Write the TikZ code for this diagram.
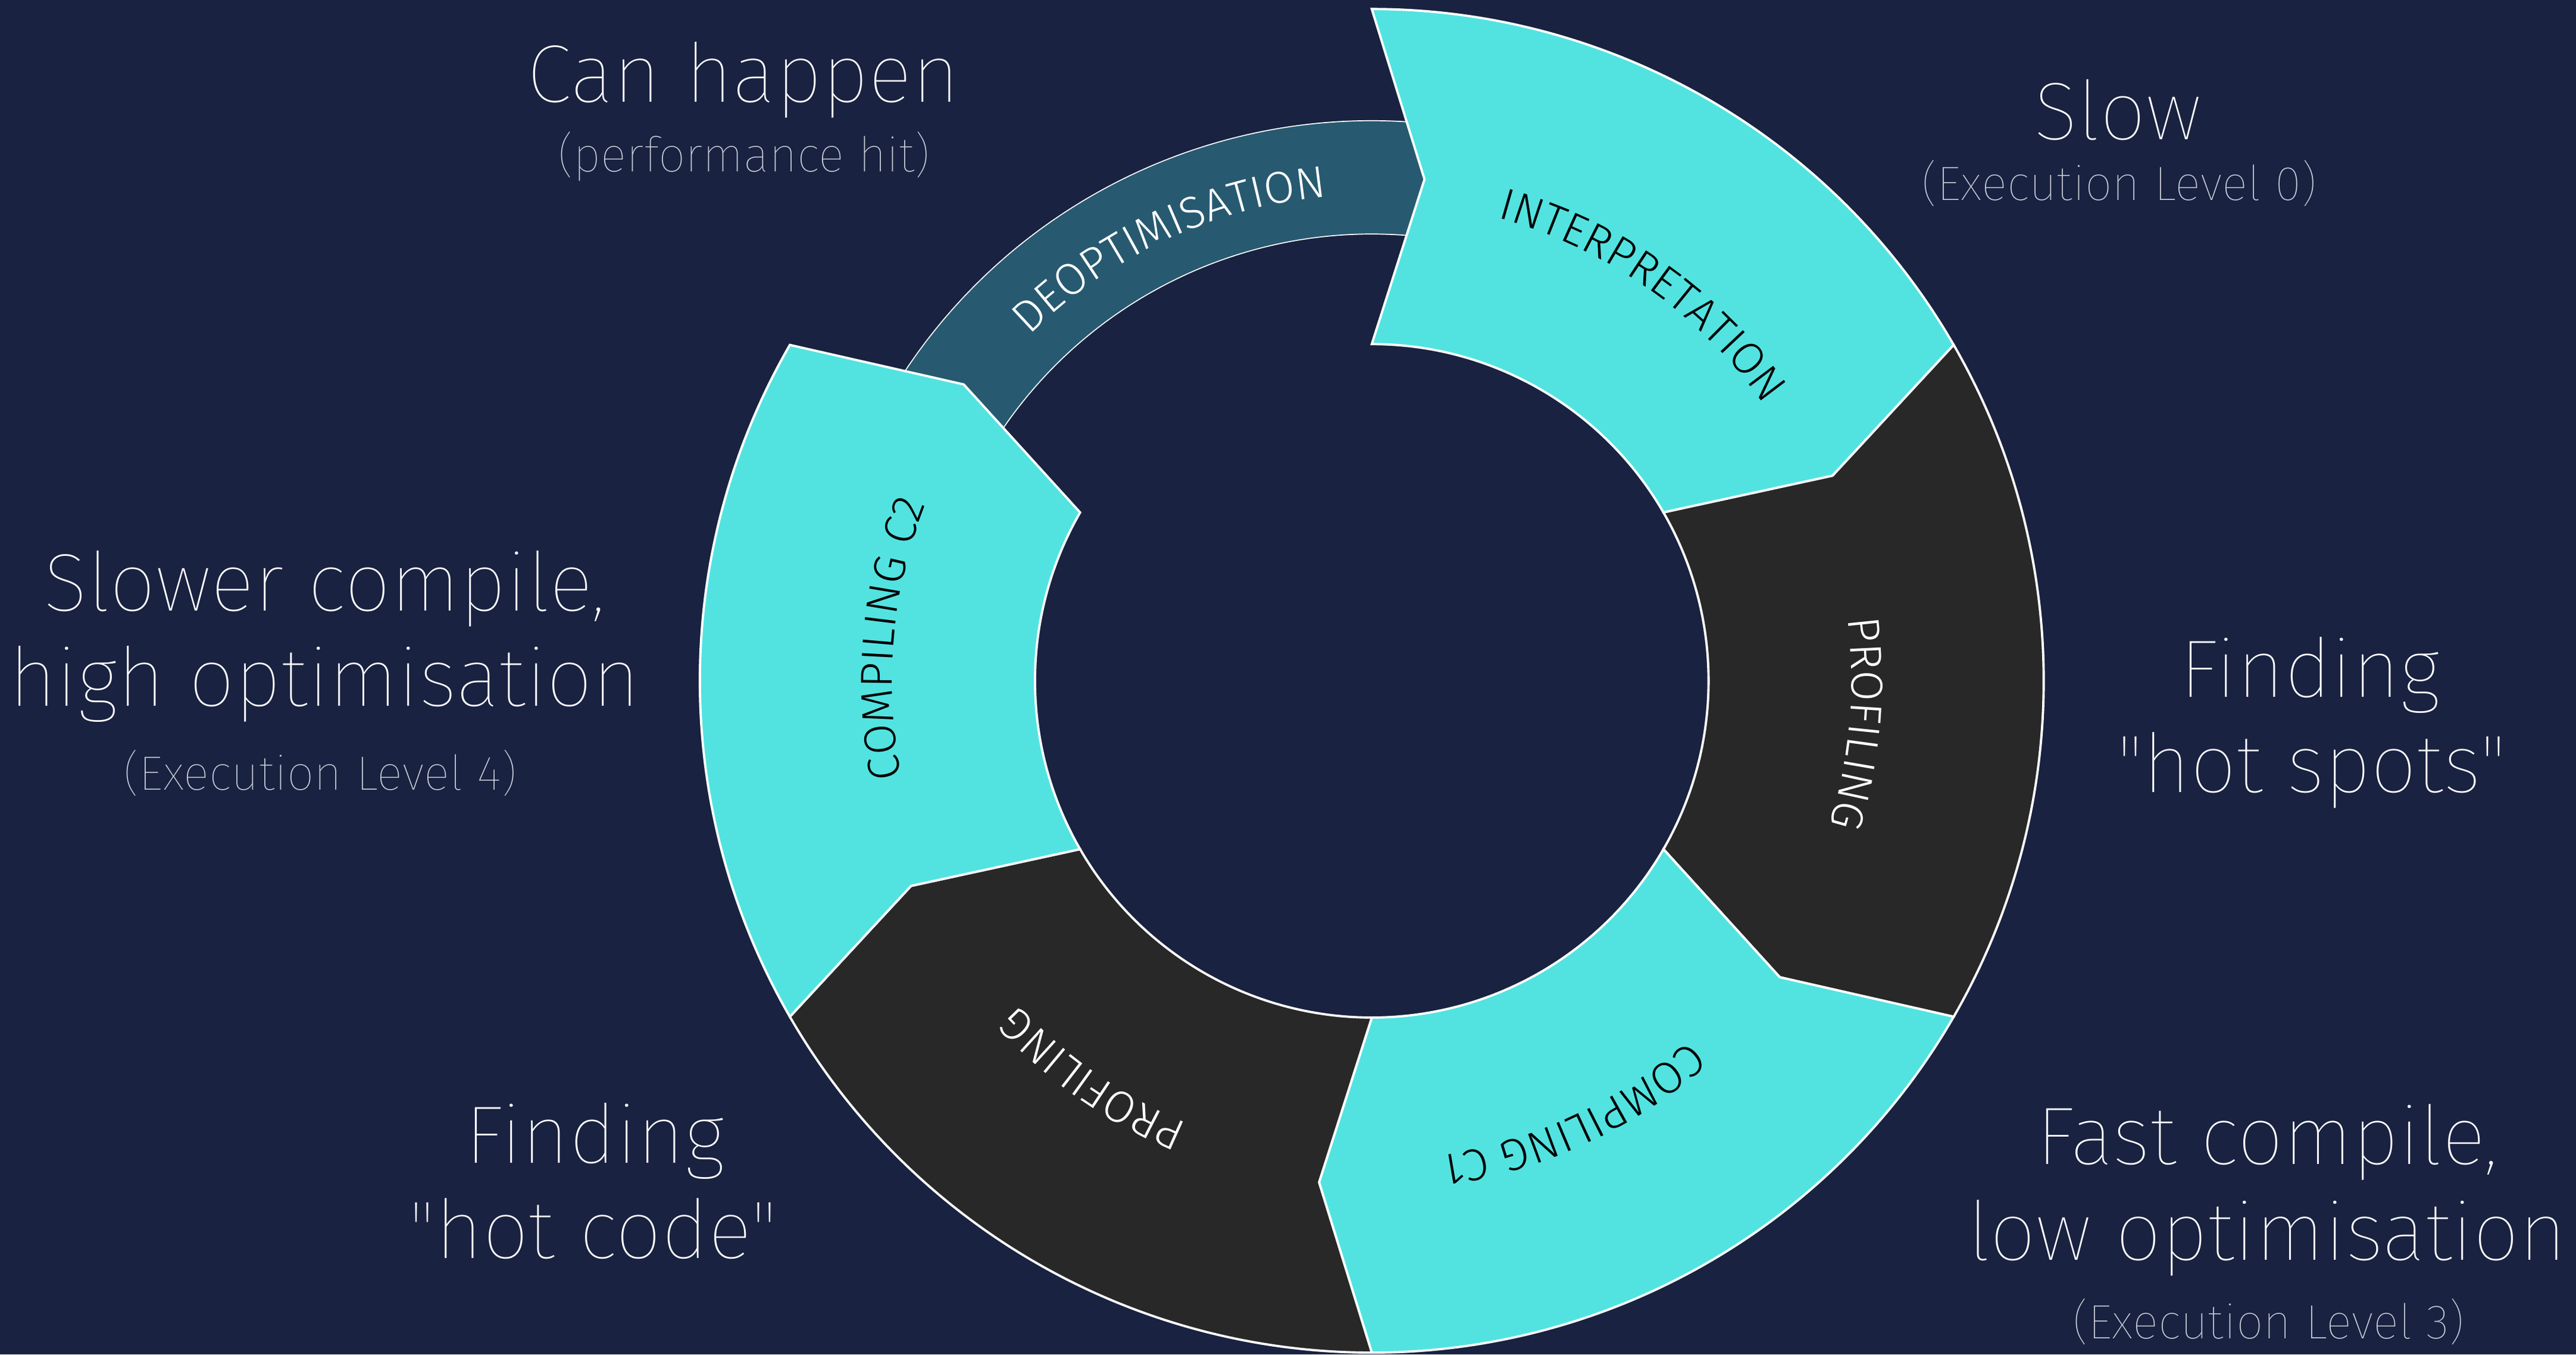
\documentclass[tikz,border=0pt]{standalone}
\usepackage{fontspec}
\setmainfont{Fira Sans}
\newfontfamily\thinfamily{Fira Sans Thin}
\newfontfamily\labelfamily{Fira Sans Light}
\usetikzlibrary{decorations.text}

\definecolor{bgnavy}{HTML}{192240}
\definecolor{segcyan}{HTML}{52E3E1}
\definecolor{seggray}{HTML}{282828}
\definecolor{deoptblue}{HTML}{275A70}
\definecolor{notegray}{HTML}{C9CDD8}

\newcommand\labelfont{\labelfamily\fontsize{15.5}{18}\selectfont}
\newcommand\bigfont{\thinfamily\fontsize{28.3}{33}\selectfont}
\newcommand\smallfont{\thinfamily\fontsize{16.7}{19}\selectfont}

\begin{document}
\begin{tikzpicture}[x=0.2mm,y=0.2mm,
  seg/.style={draw=white, line width=0.8pt, line join=miter},
  band/.style={draw=white, line width=0.35pt, fill=deoptblue},
  bigtxt/.style={anchor=base, text=white, font=\bigfont, inner sep=0pt},
  smalltxt/.style={anchor=base, text=notegray, font=\smallfont, inner sep=0pt},
  arclabel/.style 2 args={decorate, decoration={text along path,
      text align=center, text color=#1, text={|\labelfont|#2}}}]

  % Background
  \path[fill=bgnavy, use as bounding box] (-835,-410.1) rectangle (733,414.5);
  \coordinate (O) at (0,0);

  % Deoptimisation band (under the ring)
  \draw[band] (154:341) arc[start angle=154, end angle=80, radius=341]
    -- (80:272) arc[start angle=80, end angle=154, radius=272] -- cycle;

  % Ring segments
  \draw[seg, fill=segcyan] (90:409) arc[start angle=90, end angle=30, radius=409]
    -- (24:307) -- (30:205) arc[start angle=30, end angle=90, radius=205] -- (84:307) -- cycle;
  \draw[seg, fill=seggray] (30:409) arc[start angle=30, end angle=-30, radius=409]
    -- (-36:307) -- (-30:205) arc[start angle=-30, end angle=30, radius=205] -- (24:307) -- cycle;
  \draw[seg, fill=segcyan] (-30:409) arc[start angle=-30, end angle=-90, radius=409]
    -- (-96:307) -- (-90:205) arc[start angle=-90, end angle=-30, radius=205] -- (-36:307) -- cycle;
  \draw[seg, fill=seggray] (-90:409) arc[start angle=-90, end angle=-150, radius=409]
    -- (-156:307) -- (-150:205) arc[start angle=-150, end angle=-90, radius=205] -- (-96:307) -- cycle;
  \draw[seg, fill=segcyan] (210:409) arc[start angle=210, end angle=150, radius=409]
    -- (144:307) -- (150:205) arc[start angle=150, end angle=210, radius=205] -- (204:307) -- cycle;

  % Segment labels
  \path[arclabel={white}{DEOPTIMISATION}] (160:296) arc[start angle=160, end angle=70, radius=296];
  \path[arclabel={black}{INTERPRETATION}] (100:292) arc[start angle=100, end angle=10, radius=292];
  \path[arclabel={white}{PROFILING}] (40:292) arc[start angle=40, end angle=-50, radius=292];
  \path[arclabel={black}{COMPILING C1}] (-20:292) arc[start angle=-20, end angle=-110, radius=292];
  \path[arclabel={white}{PROFILING}] (-80:292) arc[start angle=-80, end angle=-170, radius=292];
  \path[arclabel={black}{COMPILING C2}] (220:292) arc[start angle=220, end angle=130, radius=292];

  % Notes
  \node[bigtxt] (canhappen) at (-382.5,352.5) {Can happen};
  \node[smalltxt] (perfhit) at (-382,310) {(performance hit)};
  \node[bigtxt] (slow) at (454,329.5) {Slow};
  \node[smalltxt] (level0) at (455,292.5) {(Execution Level 0)};
  \node[bigtxt] (slower) at (-637.5,42.5) {Slower compile,};
  \node[bigtxt] (highopt) at (-637.5,-15.5) {high optimisation};
  \node[smalltxt] (level4) at (-640,-66.5) {(Execution Level 4)};
  \node[bigtxt] (findright) at (571,-10) {Finding};
  \node[bigtxt] (hotspots) at (572,-68) {"hot spots"};
  \node[bigtxt] (findleft) at (-473,-293.5) {Finding};
  \node[bigtxt] (hotcode) at (-474,-351.5) {"hot code"};
  \node[bigtxt] (fastcomp) at (545,-294.5) {Fast compile,};
  \node[bigtxt] (lowopt) at (545,-352.5) {low optimisation};
  \node[smalltxt] (level3) at (546,-400.5) {(Execution Level 3)};
\end{tikzpicture}
\end{document}
